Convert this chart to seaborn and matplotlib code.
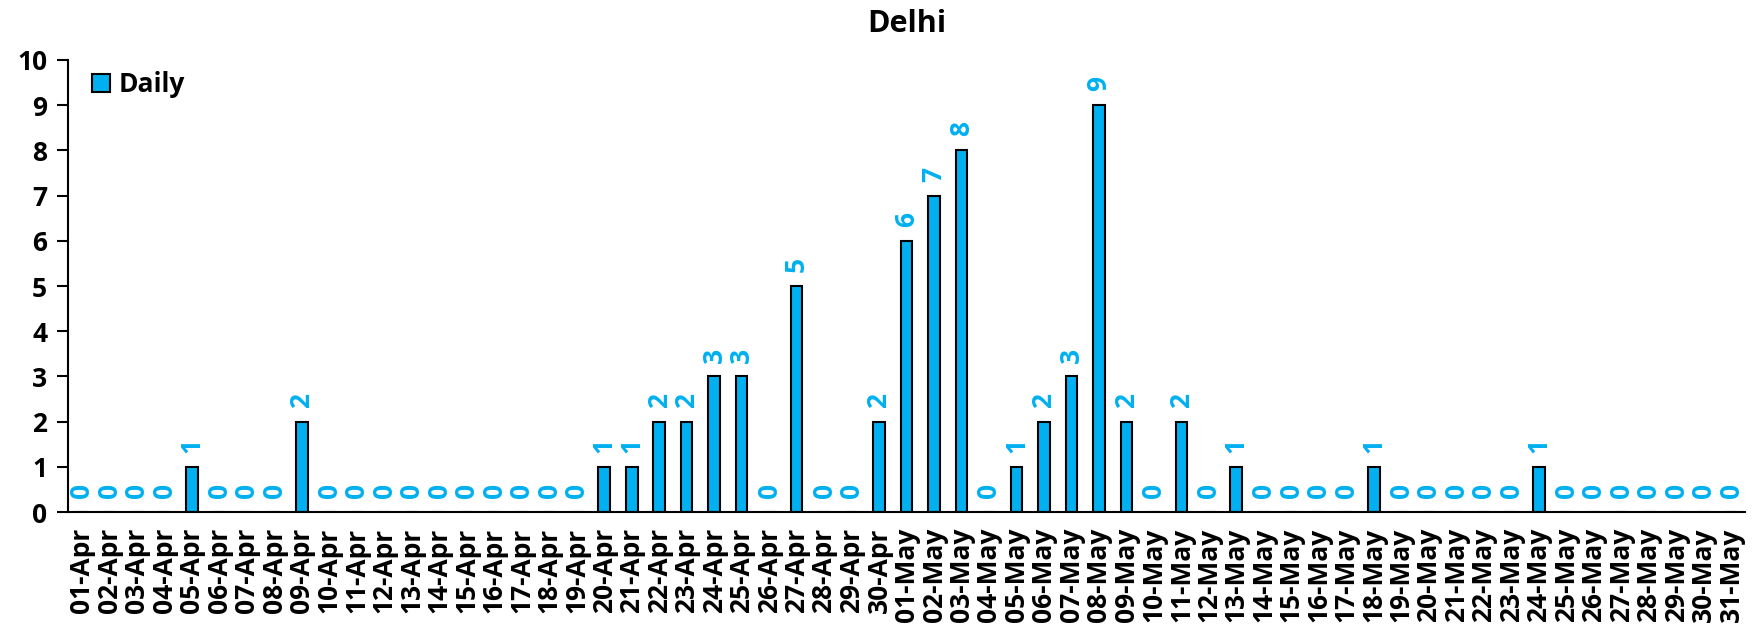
import matplotlib
matplotlib.use('Agg')
import matplotlib.pyplot as plt
import numpy as np
import pandas as pd
import seaborn as sns

# daily counts, 01-Apr .. 31-May
apr_days = [f'{d:02d}-Apr' for d in range(1, 31)]
may_days = [f'{d:02d}-May' for d in range(1, 32)]
dates = apr_days + may_days

apr_values = [0, 0, 0, 0, 1, 0, 0, 0, 2, 0,
              0, 0, 0, 0, 0, 0, 0, 0, 0, 1,
              1, 2, 2, 3, 3, 0, 5, 0, 0, 2]
may_values = [6, 7, 8, 0, 1, 2, 3, 9, 2, 0,
              2, 0, 1, 0, 0, 0, 0, 1, 0, 0,
              0, 0, 0, 1, 0, 0, 0, 0, 0, 0, 0]
values = apr_values + may_values

series_name = 'Daily'
bar_color = '#00B0F0'

df = pd.DataFrame({'date': dates, 'count': values, 'series': series_name})

sns.set_style('white')
plt.rcParams['font.family'] = ['Open Sans', 'DejaVu Sans']
plt.rcParams['font.weight'] = 'bold'
plt.rcParams['text.color'] = 'black'
plt.rcParams['xtick.color'] = 'black'
plt.rcParams['ytick.color'] = 'black'

fs = 19

fig = plt.figure(figsize=(17.58, 6.3), dpi=100)
ax = fig.add_axes([0.0387, 0.187, 0.9539, 0.718])

sns.barplot(data=df, x='date', y='count', hue='series',
            palette={series_name: bar_color}, saturation=1, edgecolor='black',
            linewidth=1.5, width=0.43, ax=ax)

for c in ax.containers:
    ax.bar_label(c, labels=[f'{int(v)}' for v in values], rotation=90,
                 padding=10, color=bar_color, fontsize=fs, fontweight='bold')

ax.set_xlim(-0.5, len(dates) - 0.5)
ax.set_ylim(0, 10)
ax.set_yticks(range(0, 11))
ax.set_xlabel('')
ax.set_ylabel('')
ax.set_title('Delhi', fontsize=22, fontweight='bold', pad=20, color='black')

# ticks sit between categories
ax.set_xticks(np.arange(-0.5, len(dates), 1.0), minor=True)
ax.tick_params(axis='x', which='major', length=0, labelsize=fs, rotation=90, pad=11)
ax.tick_params(axis='x', which='minor', length=8, width=1.5, direction='out', color='black')
ax.tick_params(axis='y', length=8, width=1.5, direction='out', color='black',
               labelsize=fs, left=True, pad=7)
for lab in ax.get_xticklabels() + ax.get_yticklabels():
    lab.set_fontweight('bold')
    lab.set_color('black')

sns.despine(ax=ax)
for s in ['left', 'bottom']:
    ax.spines[s].set_color('black')
    ax.spines[s].set_linewidth(1.5)

leg = ax.legend(loc='center left', bbox_to_anchor=(0.008, 0.945), frameon=False,
                prop={'size': fs, 'weight': 'bold'}, handlelength=0.7,
                handleheight=0.7, handletextpad=0.3, borderaxespad=0)
for t in leg.get_texts():
    t.set_color('black')

fig.savefig('out.png', dpi=100)
